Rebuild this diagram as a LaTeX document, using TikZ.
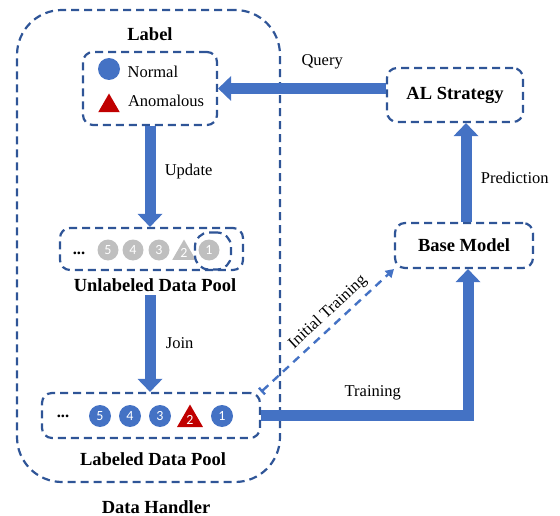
\documentclass[tikz,border=0pt]{standalone}
\usepackage{fontspec}
\setmainfont{Liberation Serif}
\newfontfamily\numfont{Carlito}
\usepackage{tikz}
\usetikzlibrary{shapes.geometric}
\usetikzlibrary{arrows.meta}
\usetikzlibrary{positioning}
\definecolor{dhBorder}{HTML}{2F5597}
\definecolor{dhArrow}{HTML}{4472C4}
\definecolor{dhRed}{HTML}{C00000}
\definecolor{dhGray}{HTML}{BFBFBF}
\tikzstyle{dbox} = [draw=dhBorder, line width=2.2pt, dash pattern=on 8pt off 5pt,
        rounded corners=10pt, inner sep=0pt]
\tikzstyle{heading} = [font={\fontsize{18.5}{20}\selectfont\bfseries}]
\tikzstyle{comment} = [font={\fontsize{16.5}{18}\selectfont}]
\tikzstyle{flow} = [draw=dhArrow, line width=11pt,
        -{Triangle[width=25pt, length=13pt, line width=0pt]}]
\tikzstyle{init} = [draw=dhArrow, line width=2.4pt, dash pattern=on 8pt off 6pt,
        {Bar[width=9pt, line width=2.4pt]}-{Triangle[width=10pt, length=8pt, line width=0pt]}]
\tikzstyle{dot} = [circle, fill=dhArrow, minimum size=22pt, inner sep=0pt, text=white,
        font={\numfont\fontsize{14}{14}\selectfont}]
\tikzstyle{tri} = [regular polygon, regular polygon sides=3, fill=dhRed, minimum size=30pt,
        inner sep=0pt, text=white, font={\numfont\fontsize{14}{14}\selectfont}]

\begin{document}
\begin{tikzpicture}[x=1pt, y=-1pt]
        \useasboundingbox (0,0) rectangle (560,516);
        % data handler frame
        \node [dbox, rounded corners=45pt, minimum width=263pt, minimum height=472pt] (handler) at (148.5,246) {};
        \node [heading] (hcap) at (156,507) {Data Handler};
        % label legend
        \node [dbox, minimum width=134pt, minimum height=73pt] (lab) at (150,88.5) {};
        \node [heading] (labcap) at (150,34) {Label};
        \node [dot, minimum size=22pt] (nrm) at (109,69) {};
        \node [comment, right=4pt of nrm, yshift=-3pt] (nrmtxt) {Normal};
        \node [tri, minimum size=25pt] (anm) at (109,106) {};
        \node [comment, anchor=west] (anmtxt) at (124.5,101) {Anomalous};
        % unlabeled pool
        \node [dbox, minimum width=183pt, minimum height=42pt] (upool) at (151.5,249) {};
        \node [heading] (ucap) at (155,285) {Unlabeled Data Pool};
        \node [comment, font={\fontsize{16.5}{18}\selectfont\bfseries}] (udots) at (79,253) {...};
        \node [dot, fill=dhGray, minimum size=21pt] (u5) at (108,250) {5};
        \node [dot, fill=dhGray, minimum size=21pt] (u4) at (133,250) {4};
        \node [dot, fill=dhGray, minimum size=21pt] (u3) at (159,250) {3};
        \node [tri, fill=dhGray, minimum size=27pt] (u2) at (184,253) {2};
        \node [dot, fill=dhGray, minimum size=21pt] (u1) at (209,250) {1};
        \node [dbox, rounded corners=14pt, minimum width=36pt, minimum height=37pt] (ring) at (213,251) {};
        % labeled pool
        \node [dbox, minimum width=218pt, minimum height=45pt] (lpool) at (151,415.5) {};
        \node [heading] (lcap) at (153,459) {Labeled Data Pool};
        \node [comment, font={\fontsize{16.5}{18}\selectfont\bfseries}] (ldots) at (63,416) {...};
        \node [dot] (l5) at (100,416) {5};
        \node [dot] (l4) at (130,416) {4};
        \node [dot] (l3) at (160,416) {3};
        \node [tri] (l2) at (190,419.5) {2};
        \node [dot] (l1) at (222,416) {1};
        % strategy and model
        \node [dbox, heading, minimum width=136pt, minimum height=54pt] (alstrat) at (455,95) {AL Strategy};
        \node [dbox, heading, minimum width=138pt, minimum height=45pt] (base) at (464,245.5) {Base Model};
        % connectors
        \draw [flow] (alstrat.west |- lab.east)
            -- node [comment, pos=0.38, above=11pt] {Query} (lab.east);
        \draw [flow] (lab.south)
            -- node [comment, pos=0.45, right=6pt] {Update} (lab.south |- upool.north);
        \draw [flow] (ucap.south -| lab.south)
            -- node [comment, pos=0.5, right=7pt] {Join} (lab.south |- lpool.north);
        \draw [flow] (base.north -| 466,0)
            -- node [comment, pos=0.45, right=6pt] {Prediction} (alstrat.south -| 466,0);
        \draw [flow] (lpool.east)
            -| node [comment, pos=0.27, above=6.5pt] {Training} (base.south -| 468,0);
        \draw [init] (lpool.north east)
            -- node [comment, sloped, pos=0.57, above=1pt] {Initial Training} (base.south west);
\end{tikzpicture}
\end{document}
